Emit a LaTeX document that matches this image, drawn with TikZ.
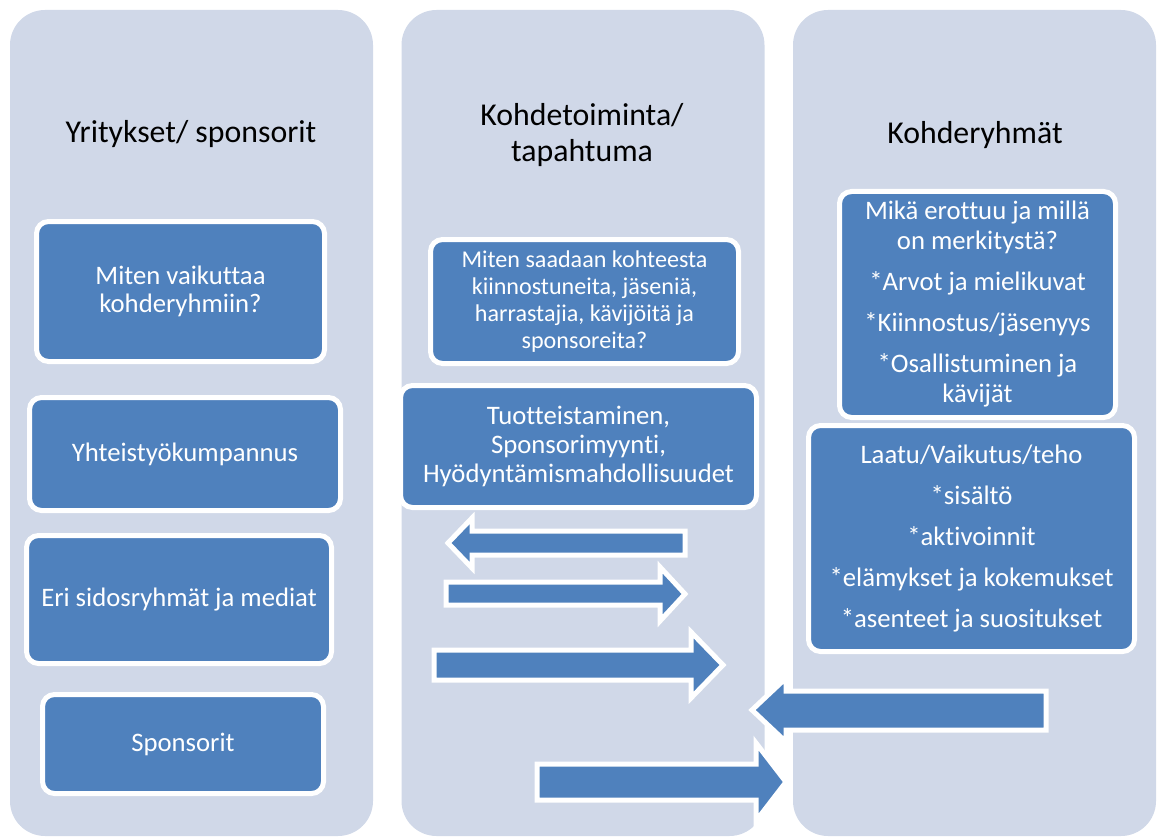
\documentclass[tikz,border=0pt]{standalone}
\usepackage{fontspec}
\setmainfont{Carlito}[Ligatures=NoCommon]
\definecolor{columnbg}{RGB}{208,216,232}
\definecolor{boxblue}{RGB}{79,129,189}
\begin{document}
\begin{tikzpicture}[
        x=1pt, y=-1pt,
        column/.style={rounded corners=35pt, fill=columnbg, minimum width=363pt, minimum height=826pt, inner sep=0pt},
        title/.style={align=center, text=black, font=\fontsize{31.8}{36}\selectfont},
        infobox/.style={rounded corners=12pt, fill=boxblue, draw=white, line width=5pt, align=center, text=white, inner sep=0pt, font=\fontsize{26.7}{29}\selectfont},
        flowarrow/.style={fill=boxblue, draw=white, line width=5pt}
    ]
        \useasboundingbox (0,0) rectangle (1161,837);

        % Sarakkeet
        \node [column] (colL) at (191.5,423) {};
        \node [column] (colM) at (583,423) {};
        \node [column] (colR) at (974.5,423) {};

        \node [title] (titleL) at (191,134) {Yritykset/ sponsorit};
        \node [title] (titleM) at (582,135) {Kohdetoiminta/\\tapahtuma};
        \node [title] (titleR) at (975,135) {Kohderyhmät};

        % Vasen sarake
        \node [infobox, minimum width=288pt, minimum height=140pt, font=\fontsize{26.7}{28}\selectfont] (vaikutus) at (180.5,291.5) {Miten vaikuttaa\\kohderyhmiin?};
        \node [infobox, minimum width=311pt, minimum height=113pt] (yhteistyo) at (185,454) {Yhteistyökumpannus};
        \node [infobox, minimum width=305pt, minimum height=128pt] (sidos) at (179,599.5) {Eri sidosryhmät ja mediat};
        \node [infobox, minimum width=281pt, minimum height=99pt] (sponsorit) at (183,744) {Sponsorit};

        % Keskimmäinen sarake
        \node [infobox, minimum width=308pt, minimum height=124pt, font=\fontsize{24.1}{27}\selectfont] (saadaan) at (584.5,301.5)
            {Miten saadaan kohteesta\\kiinnostuneita, jäseniä,\\harrastajia, kävijöitä ja\\sponsoreita?};
        \node [infobox, minimum width=356pt, minimum height=122pt] (tuote) at (578.5,446.5)
            {Tuotteistaminen,\\Sponsorimyynti,\\Hyödyntämismahdollisuudet};

        % Oikea sarake
        \node [infobox, minimum width=276pt, minimum height=226pt, font=\fontsize{26.7}{30}\selectfont] (erottuu) at (977.5,304.5)
            {Mikä erottuu ja millä\\on merkitystä?\\[11pt]*Arvot ja mielikuvat\\[11pt]*Kiinnostus/jäsenyys\\[11pt]*Osallistuminen ja\\kävijät};
        \node [infobox, minimum width=326pt, minimum height=226pt, font=\fontsize{26.7}{41}\selectfont] (laatu) at (971.5,538.5)
            {Laatu/Vaikutus/teho\\*sisältö\\*aktivoinnit\\*elämykset ja kokemukset\\*asenteet ja suositukset};

        % Nuolet
        \draw [flowarrow] (685,531) -- (472,531) -- (472,518) -- (448,543) -- (472,568) -- (472,555) -- (685,555) -- cycle;
        \draw [flowarrow] (446,582) -- (660,582) -- (660,567) -- (685,594) -- (660,621) -- (660,605) -- (446,605) -- cycle;
        \draw [flowarrow] (434,650) -- (691,650) -- (691,632) -- (723,665) -- (691,698) -- (691,680) -- (434,680) -- cycle;
        \draw [flowarrow] (1046,691) -- (786,691) -- (786,678) -- (752,710) -- (786,742) -- (786,730) -- (1046,730) -- cycle;
        \draw [flowarrow] (537,764) -- (756,764) -- (756,743) -- (786,782) -- (756,821) -- (756,800) -- (537,800) -- cycle;
    \end{tikzpicture}
\end{document}
